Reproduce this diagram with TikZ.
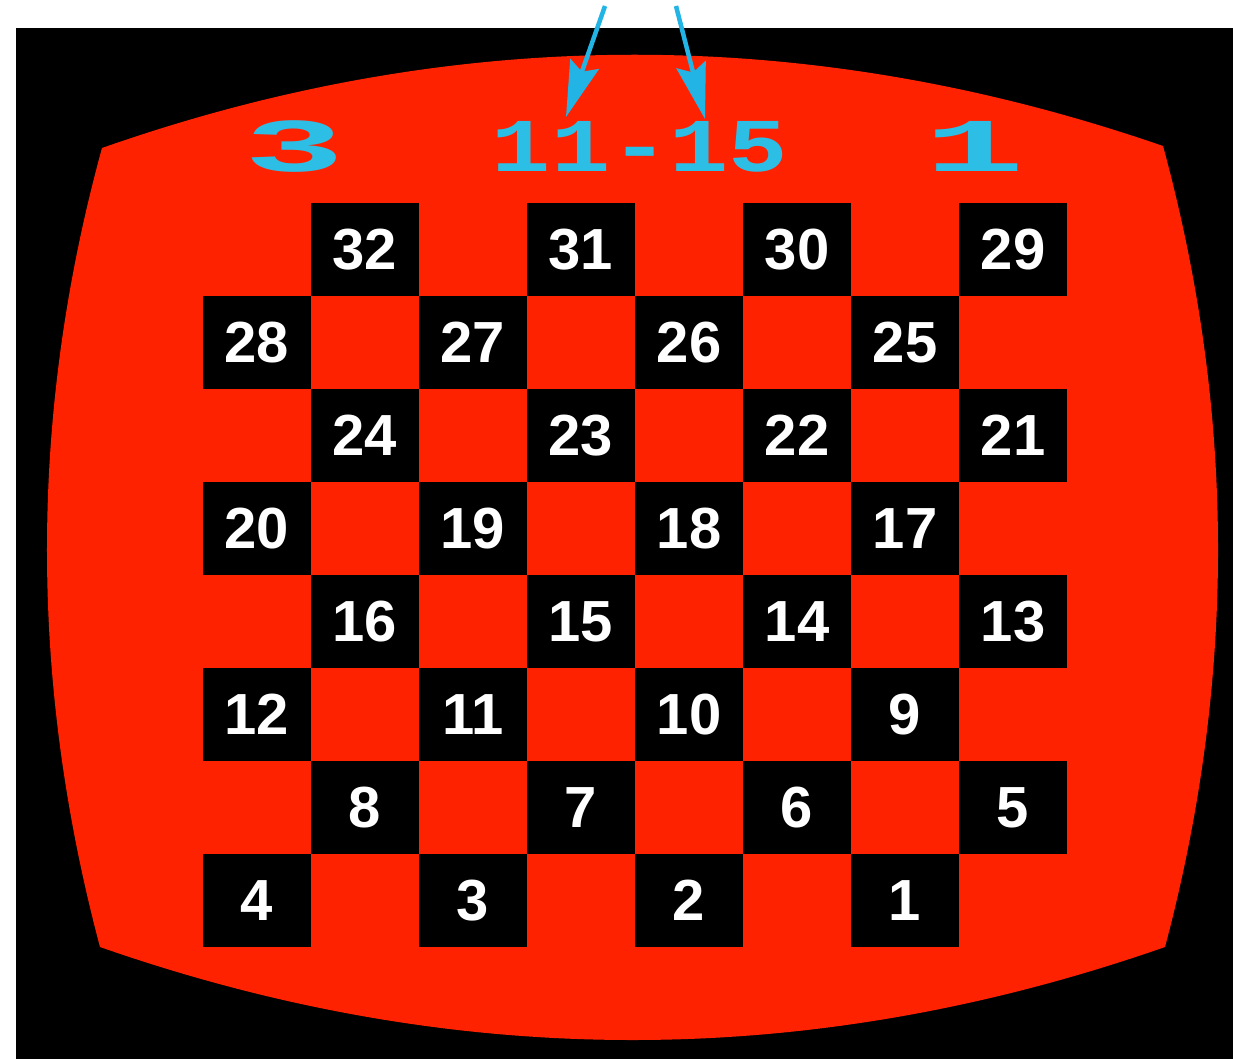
\documentclass[tikz,border=0pt]{standalone}
\usepackage{fontspec}
\setmainfont{Liberation Sans}
\newfontfamily\scorefont{Liberation Mono}
\usetikzlibrary{arrows.meta}
\definecolor{scrred}{RGB}{255,34,0}
\definecolor{scorecyan}{RGB}{45,190,230}
\definecolor{arrowcyan}{RGB}{35,180,230}
\begin{document}
\begin{tikzpicture}[x=1pt,y=-1pt,
  cell/.style={fill=black, minimum width=108pt, minimum height=93pt, inner sep=0pt,
    text=white, font=\fontsize{58}{62}\selectfont\bfseries},
  score/.style={text=scorecyan, inner sep=0pt, anchor=base,
    font=\fontsize{76}{80}\selectfont\scorefont\bfseries},
  pointer/.style={draw=arrowcyan, line width=4.5pt,
    -{Stealth[length=56pt,width=30pt,inset=8pt]}}
]
\useasboundingbox (0,0) rectangle (1233,1059);
\fill[white] (0,0) rectangle (1233,1059);
% black frame
\fill[black] (16,28) rectangle (1233,1059);
% red screen
\fill[scrred] (102,148) .. controls (455,24) and (810,24) .. (1163,146)
  .. controls (1236,414) and (1236,680) .. (1165,947)
  .. controls (810,1071) and (455,1071) .. (100,947)
  .. controls (29,680) and (29,414) .. cycle;
% board squares
\foreach \j in {0,...,7} {
  \foreach \k in {0,...,3} {
    \pgfmathtruncatemacro\n{32-4*\j-\k}
    \pgfmathtruncatemacro\c{2*\k+1-mod(\j,2)}
    \node[cell] (s\n) at ({203+108*\c+54},{203+93*\j+46.5}) {\n};
  }
}
% score line
\node[score] (left) at (295,172) {\scalebox{2.2}[1]{3}};
\node[score] (move) at (640,172) {\scalebox{1.3}[1]{11-15}};
\node[score] (right) at (975,172) {\scalebox{2.2}[1]{1}};
% pointers
\coordinate (p1s) at (605,6);
\coordinate (p1e) at (566,117);
\coordinate (p2s) at (676,6);
\coordinate (p2e) at (705,119);
\draw[pointer] (p1s) -- (p1e);
\draw[pointer] (p2s) -- (p2e);
\end{tikzpicture}
\end{document}
